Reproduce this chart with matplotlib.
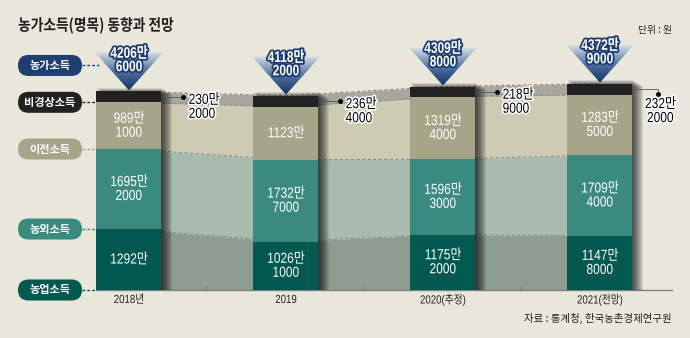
import numpy as np
import matplotlib.pyplot as plt
from matplotlib.patches import Rectangle, Polygon, FancyBboxPatch
from matplotlib.colors import LinearSegmentedColormap
from matplotlib.transforms import Affine2D
import matplotlib.patheffects as pe

plt.rcParams['font.family'] = ['Liberation Sans', 'Noto Sans CJK KR', 'DejaVu Sans']

# 데이터 (단위: 원)
years = ['2018년', '2019', '2020(추정)', '2021(전망)']
layer_names = ['농업소득', '농외소득', '이전소득', '비경상소득']
farm = [12920000, 10261000, 11752000, 11478000]
offfarm = [16952000, 17327000, 15963000, 17094000]
transfer = [9891000, 11230000, 13194000, 12835000]
irregular = [2302000, 2364000, 2189000, 2322000]
total = [42066000, 41182000, 43098000, 43729000]

bg = '#e9e7dc'
bar_colors = ['#03584f', '#3b8a80', '#a6a489', '#222222']
area_colors = ['#8f9c91', '#a9bbae', '#cecbb5', '#a7a7a0']
pill_colors = ['#1d3f72', '#222222', '#a6a489', '#3b8a80', '#03584f']


# 장평 줄인 글씨 (condensed 느낌)
class Squeeze(pe.AbstractPathEffect):
    def __init__(self, sx=0.82, anchor='center', stroke=0, stroke_color='white'):
        super().__init__()
        self.sx, self.anchor = sx, anchor
        self.stroke, self.stroke_color = stroke, stroke_color

    def draw_path(self, renderer, gc, tpath, affine, rgbFace=None):
        ext = tpath.get_extents()
        cx = ext.x0 if self.anchor == 'left' else (ext.x0 + ext.x1) / 2
        tr = Affine2D().translate(-cx, 0).scale(self.sx, 1).translate(cx, 0) + affine
        if self.stroke:
            gc0 = renderer.new_gc()
            gc0.copy_properties(gc)
            gc0.set_linewidth(self.stroke)
            gc0.set_foreground(self.stroke_color)
            gc0.set_joinstyle('round')
            renderer.draw_path(gc0, tpath, tr, rgbFace)
            gc0.restore()
        renderer.draw_path(gc, tpath, tr, rgbFace)


# 픽셀 -> 데이터 변환용
W, H = 690, 338
x_at0, dx = -129 / 157, 1 / 157
y_top, dy = 290 / 0.0472, 1 / 0.0472

fig = plt.figure(figsize=(W / 100, H / 100), dpi=100, facecolor=bg)
ax = fig.add_axes([0, 0, 1, 1])
ax.set_facecolor(bg)
ax.axis('off')

vals = np.array([farm, offfarm, transfer, irregular]) / 10000
tops = vals.cumsum(axis=0)
bottoms = tops - vals
x = np.arange(len(years))
w = 65 * dx

# 막대 사이 영역
for k in range(4):
    ax.fill_between(x, bottoms[k], tops[k], color=area_colors[k], lw=0, zorder=1)
for k in range(4):
    ax.plot(x, tops[k], color='#8e8e86', lw=0.8, ls=(0, (3, 2)), zorder=2)

# 기준선
ax.plot([x[0] - w / 2, x_at0 + 672 * dx], [0, 0], color='#808080', lw=1, zorder=2)
for m in x[:-1] + 0.5:
    ax.plot([m, m], [0, 3 * dy], color='#808080', lw=1, zorder=2)

# 그림자 + 막대
for i in x:
    for s in range(1, 12):
        ax.add_patch(Rectangle((i - w / 2 + s * dx, 0), w, tops[3, i] + 4 * dy - s * dy * 0.6,
                               color='black', alpha=0.085, lw=0, zorder=3))
    for k in range(4):
        ax.add_patch(Rectangle((i - w / 2, bottoms[k, i]), w, vals[k, i],
                               color=bar_colors[k], lw=0, zorder=4))


def fmt(v):
    man, rest = v // 10000, v % 10000
    return f'{man}만' if rest == 0 else f'{man}만\n{rest:04d}'


raw = [farm, offfarm, transfer]
for k in range(3):
    for i in x:
        ax.text(i, bottoms[k, i] + vals[k, i] / 2, fmt(raw[k][i]), color='white',
                ha='center', va='center', fontsize=10.5, linespacing=1.0, zorder=6,
                path_effects=[Squeeze(0.82)])

# 비경상소득 라벨
for i in x:
    yb = tops[3, i] - vals[3, i] / 2
    if i < 3:
        xd = i + w / 2 + 22 * dx
        ax.plot([i + w / 2, xd], [yb, yb], color='#555555', lw=0.6, zorder=5)
        ax.plot(xd, yb, 'o', color='black', ms=2.5, zorder=6)
        ax.text(xd + 5 * dx, yb + 4 * dy, fmt(irregular[i]), ha='left', va='top',
                fontsize=10.5, linespacing=1.0, color='black', zorder=6,
                path_effects=[Squeeze(0.82, 'left', 2.2, 'white')])
    else:
        xd = i + w / 2 + 25 * dx
        ax.plot([i + w / 2, xd, xd], [yb, yb, yb - 5 * dy], color='#555555', lw=0.6, zorder=5)
        ax.plot(xd, yb - 5 * dy, 'o', color='black', ms=2.5, zorder=6)
        ax.text(xd + 3 * dx, yb - 8 * dy, fmt(irregular[i]), ha='center', va='top',
                fontsize=10.5, linespacing=1.0, color='black', zorder=6,
                path_effects=[Squeeze(0.82, 'center', 2.2, 'white')])

# 농가소득 삼각형
cmap = LinearSegmentedColormap.from_list('tri', ['#163566', '#4f70a0', '#d6dde3'])
grad = np.linspace(0, 1, 100).reshape(-1, 1)
hw, th = 34 * dx, 38 * dy
for i in x:
    t = tops[3, i] + 1 * dy
    tri = Polygon([(i - hw, t + th), (i + hw, t + th), (i, t)], closed=True,
                  fc='none', ec='none', zorder=5)
    ax.add_patch(tri)
    im = ax.imshow(grad, cmap=cmap, origin='lower', aspect='auto',
                   extent=[i - hw, i + hw, t, t + th], zorder=5)
    im.set_clip_path(tri)
    ax.text(i, t + th - 8 * dy, fmt(total[i]), color='white', ha='center', va='center',
            fontsize=11, weight='bold', linespacing=0.95, zorder=6,
            path_effects=[Squeeze(0.78, 'center', 2.6, '#1d3d70')])

# 왼쪽 범례 알약
pill_labels = ['농가소득'] + layer_names[::-1]
pill_y = [tops[3, 0] + 26 * dy] + list(bottoms[::-1, 0])
pw, ph = 64 * dx, 21 * dy
pcx = x_at0 + 50 * dx
for lab, yy, c in zip(pill_labels, pill_y, pill_colors):
    ax.add_patch(FancyBboxPatch((pcx - pw / 2, yy - ph / 2), pw, ph,
                                boxstyle=f'round,pad=0,rounding_size={10.5 * dx}',
                                mutation_aspect=dy / dx, fc=c, ec='none', zorder=6))
    ax.text(pcx, yy, lab, color='white', ha='center', va='center', fontsize=8,
            family=['Noto Sans CJK KR'], weight='bold', zorder=7)
    xend = x[0] - w / 2 if lab != '농가소득' else x[0] - 0.19
    ax.plot([pcx + pw / 2, xend], [yy, yy], color=c, lw=1, ls=(0, (2, 1.5)), zorder=5)

# 연도 라벨
for i, lab in enumerate(years):
    ax.text(i, -10 * dy, lab, ha='center', va='center', fontsize=8.5, color='#222222',
            path_effects=[Squeeze(0.82)])

ax.text(x_at0 + 18 * dx, y_top - 25 * dy, '농가소득(명목) 동향과 전망', ha='left', va='center',
        fontsize=11.5, weight='bold', family=['Noto Sans CJK KR'], color='#1e1e1e',
        path_effects=[Squeeze(0.86, 'left')])
ax.text(x_at0 + 672 * dx, y_top - 30 * dy, '단위 : 원', ha='right', va='center',
        fontsize=7, family=['Noto Sans CJK KR'], color='#222222')
ax.text(x_at0 + 672 * dx, y_top - 318 * dy, '자료 : 통계청, 한국농촌경제연구원', ha='right', va='center',
        fontsize=7.5, family=['Noto Sans CJK KR'], color='#222222')

ax.set_xlim(x_at0, x_at0 + W * dx)
ax.set_ylim(y_top - H * dy, y_top)

fig.savefig('out.png', dpi=100, facecolor=bg)
